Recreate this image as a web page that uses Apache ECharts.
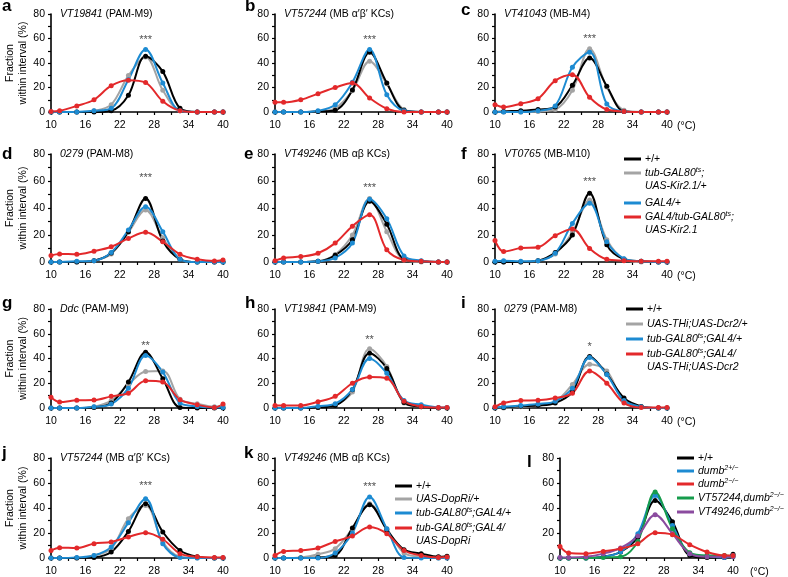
<!DOCTYPE html>
<html>
<head>
<meta charset="utf-8">
<script src="https://cdn.jsdelivr.net/npm/echarts@6/dist/echarts.min.js"></script>
<style>
  html, body { margin: 0; background: #fff; }
  #chart { width: 788px; height: 577px; }
</style>
</head>
<body>
<div id="chart"></div>
<script>
// temperature bins (°C), shared by every panel
const X = [10, 11.5, 14.5, 17.5, 20.5, 23.5, 26.5, 29.5, 32.5, 35.5, 38.5, 40]
const xTicks = [10, 16, 22, 28, 34, 40]
const yTicks = [0, 20, 40, 60, 80]

// a  VT19841 (PAM-M9)
const aBlack = [0, 0, 0, 0, 1, 13.6, 45.5, 33, 3, 0, 0, 0]
const aGray = [0, 0, 0, 1, 6, 29.7, 45, 17.7, 1, 0, 0, 0]
const aBlue = [0, 0, 0, 1, 3, 26.4, 51, 23.7, 1, 0, 0, 0]
const aRed = [0.5, 1, 5, 10, 21.5, 26, 24, 8.7, 1, 0, 0, 0]
// b  VT57244 (MB a'b' KCs)
const bBlack = [0, 0, 0, 0.5, 1.5, 18, 48.7, 23.7, 1.4, 0, 0, 0]
const bGray = [0, 0, 0, 0.5, 3, 17.4, 41.4, 23, 2, 0, 0, 0]
const bBlue = [0, 0, 0, 1, 6, 24.2, 51, 14, 1, 0, 0, 0]
const bRed = [7.9, 7.9, 10, 15, 20, 23.7, 11.4, 2.7, 0, 0, 0, 0]
// c  VT41043 (MB-M4)
const cBlack = [0, 0.5, 1, 2, 4, 21.8, 44, 21, 0.5, 0, 0, 0]
const cGray = [0, 0, 0, 0.5, 2, 17.7, 51.7, 20.4, 1.4, 0, 0, 0]
const cBlue = [0, 0, 0, 1, 5, 36.5, 48.7, 6.5, 0.5, 0, 0, 0]
const cRed = [6, 4, 6.8, 10.9, 25.6, 30.5, 12, 2, 0.5, 0, 0, 0]
// d  0279 (PAM-M8)
const dBlack = [0, 0, 0, 1, 6.7, 22.5, 47, 15.5, 2, 0, 0, 0]
const dGray = [0, 0, 0, 1, 6, 22, 38.5, 18, 2, 0, 0, 0]
const dBlue = [0, 0, 0.5, 1, 7, 23.7, 41, 22.5, 2, 0, 0, 0]
const dRed = [4.9, 6, 5.7, 8, 11.3, 17.5, 22, 15, 5.7, 2, 0.7, 1.5]
// e  VT49246 (MB ab KCs)
const eBlack = [0, 0, 0, 0.5, 5, 16.5, 45, 28, 2, 0.5, 0, 0]
const eGray = [0, 0, 0, 0.5, 5.5, 20, 47, 22.5, 1.5, 0, 0, 0]
const eBlue = [0, 0, 0, 0.5, 3, 14, 46.5, 32, 4.5, 1, 0, 0]
const eRed = [1, 3, 4, 6.5, 14, 26.5, 35, 9, 1.5, 0.5, 0, 0]
// f  VT0765 (MB-M10)
const fBlack = [0, 0, 0, 1, 7, 20, 51, 12.7, 2, 0.5, 0, 0]
const fGray = [0, 0, 0, 1, 6, 22, 46, 16.5, 2, 0, 0, 0]
const fBlue = [0.5, 1, 0.5, 1, 6.5, 28.6, 43.5, 15, 2.5, 0.5, 0, 0]
const fRed = [16, 7.7, 10.3, 11, 19.5, 24.5, 10, 2, 1, 0.5, 0.5, 0.5]
// g  Ddc (PAM-M9)
const gBlack = [0, 0, 0, 0.5, 4, 21, 45, 23.6, 0.5, 0, 0, 0]
const gGray = [0, 0, 0, 1, 6, 19, 29.5, 30, 7, 3.5, 1, 2]
const gBlue = [0, 0, 0, 1, 3.2, 16, 42.4, 29, 4, 1.3, 0.5, 0.5]
const gRed = [8.6, 4.8, 6.2, 6.4, 9.4, 12, 22, 21, 6.7, 2.7, 0.5, 3.2]
// h  VT19841 (PAM-M9)
const hBlack = [0, 0, 0, 0.5, 2, 14.8, 44.3, 32, 4.5, 1, 0, 0]
const hGray = [0, 0, 0, 0.5, 2.5, 13, 47.8, 33.6, 4, 1, 0, 0]
const hBlue = [0, 0, 0, 1.5, 3.5, 15, 40, 28, 6, 2.7, 0.5, 0.5]
const hRed = [2, 2, 2, 5, 9.4, 20, 25, 24, 5.4, 1.3, 0.5, 0.5]
// i  0279 (PAM-M8)
const iBlack = [0, 0.5, 1.5, 2, 4, 13, 41.6, 27.4, 8, 1.3, 0, 0]
const iGray = [0, 0, 1, 2, 5, 19, 35.4, 30, 5, 1, 0, 0]
const iBlue = [0.5, 1, 2, 3.2, 5.4, 16, 40.8, 27, 6, 1, 0, 0]
const iRed = [1, 4, 6, 6.2, 8, 12, 30, 20, 4, 0.5, 0.5, 0.5]
// j  VT57244 (MB a'b' KCs)
const jBlack = [0, 0, 0, 0.5, 4.8, 21.3, 43.5, 20.8, 6, 1, 0, 0]
const jGray = [0, 0, 0, 2, 7.5, 31.5, 42, 12.8, 1, 0, 0, 0]
const jBlue = [0, 0, 0.5, 2, 8.8, 28.3, 47.5, 11.5, 0.5, 0, 0, 0]
const jRed = [6, 8.3, 8, 11.5, 12.8, 16.8, 20.3, 15, 3.5, 1, 0.5, 0.5]
// k  VT49246 (MB ab KCs)
const kBlack = [0, 0, 0, 0.5, 2, 24, 42.7, 22.7, 6.7, 3.5, 1, 1.5]
const kGray = [0, 0, 0.5, 3, 7.5, 23.5, 43.5, 23.5, 4, 1, 0, 0]
const kBlue = [0, 0, 0, 0, 4, 20, 48.8, 23.5, 0.5, 0, 0, 0]
const kRed = [2, 5.3, 6, 8, 13.3, 17.6, 24.8, 19.5, 6, 2, 0.5, 0.8]
// l  dumb2 mutants
const lBlack = [0, 0, 0, 1, 4.8, 16.8, 46, 29, 2, 0.5, 0.5, 3]
const lBlue = [0, 0, 0, 1, 5, 19.5, 50, 26, 3.5, 1.5, 0.5, 2]
const lRed = [9.3, 4, 3.5, 5.3, 7.5, 11.5, 20.3, 18.7, 10.7, 4.8, 2, 2]
const lGreen = [0, 0, 0, 0.5, 1, 13.3, 52.8, 23.5, 4.3, 2, 2, 1]
const lPurple = [0.5, 0.5, 1, 3.5, 8, 17.6, 34.7, 19.5, 3.5, 1, 1, 1]

// significance marks above the peak
const starText = ['***', '***', '***', '***', '***', '***', '**', '**', '*', '***', '***', '']
const starX = 26.5
const starY = [58.5, 58.5, 59.6, 62.5, 55, 59, 50, 55, 49.7, 57.6, 56.8, 0]

const FONT = '"Liberation Sans", Arial, sans-serif'
const BLACK = '#000000'
const GRAY = '#a4a4a4'
const BLUE = '#1d8bd2'
const RED = '#e3292b'
const GREEN = '#169c4c'
const PURPLE = '#8b4b9f'

// grid boxes [left, top, width, height] in px
const panels = [
  { letter: 'a', lp: [2, 6], box: [51, 14, 172, 98], title: ['VT19841', ' (PAM-M9)'], lines: [[aGray, GRAY], [aBlack, BLACK], [aBlue, BLUE], [aRed, RED]] },
  { letter: 'b', lp: [245, 6], box: [275, 14, 172, 98], title: ['VT57244', ' (MB α′β′ KCs)'], lines: [[bGray, GRAY], [bBlack, BLACK], [bBlue, BLUE], [bRed, RED]] },
  { letter: 'c', lp: [461, 10], box: [495, 14, 172, 98], title: ['VT41043', ' (MB-M4)'], lines: [[cGray, GRAY], [cBlack, BLACK], [cBlue, BLUE], [cRed, RED]], unit: true },
  { letter: 'd', lp: [2, 154], box: [51, 154, 172, 108], title: ['0279', ' (PAM-M8)'], lines: [[dGray, GRAY], [dBlack, BLACK], [dBlue, BLUE], [dRed, RED]] },
  { letter: 'e', lp: [244, 154], box: [275, 154, 172, 108], title: ['VT49246', ' (MB αβ KCs)'], lines: [[eGray, GRAY], [eBlack, BLACK], [eBlue, BLUE], [eRed, RED]] },
  { letter: 'f', lp: [461, 154], box: [495, 154, 172, 108], title: ['VT0765', ' (MB-M10)'], lines: [[fGray, GRAY], [fBlack, BLACK], [fBlue, BLUE], [fRed, RED]], unit: true },
  { letter: 'g', lp: [2, 303], box: [51, 309, 172, 99], title: ['Ddc', ' (PAM-M9)'], lines: [[gGray, GRAY], [gBlack, BLACK], [gBlue, BLUE], [gRed, RED]] },
  { letter: 'h', lp: [245, 303], box: [275, 309, 172, 99], title: ['VT19841', ' (PAM-M9)'], lines: [[hGray, GRAY], [hBlack, BLACK], [hBlue, BLUE], [hRed, RED]] },
  { letter: 'i', lp: [461, 303], box: [495, 309, 172, 99], title: ['0279', ' (PAM-M8)'], lines: [[iGray, GRAY], [iBlack, BLACK], [iBlue, BLUE], [iRed, RED]], unit: true },
  { letter: 'j', lp: [2, 453], box: [51, 458, 172, 100], title: ['VT57244', ' (MB α′β′ KCs)'], lines: [[jGray, GRAY], [jBlack, BLACK], [jBlue, BLUE], [jRed, RED]] },
  { letter: 'k', lp: [244, 453], box: [275, 458, 172, 100], title: ['VT49246', ' (MB αβ KCs)'], lines: [[kGray, GRAY], [kBlack, BLACK], [kBlue, BLUE], [kRed, RED]] },
  { letter: 'l', lp: [527, 462], box: [560, 458, 173, 100], title: null, lines: [[lBlack, BLACK], [lBlue, BLUE], [lGreen, GREEN], [lPurple, PURPLE], [lRed, RED]], unit: true },
]

// legends: line start x, one row per genotype
const sup = (s) => '{s|' + s + '}'
const legends = [
  { x: 624, rows: [
    { y: 159, color: BLACK, text: ['{n|+/+}'] },
    { y: 173, color: GRAY, text: ['tub-GAL80' + sup('ts') + ';', 'UAS-Kir2.1/+'] },
    { y: 203, color: BLUE, text: ['GAL4/+'] },
    { y: 217, color: RED, text: ['GAL4/tub-GAL80' + sup('ts') + ';', 'UAS-Kir2.1'] },
  ] },
  { x: 626, rows: [
    { y: 309, color: BLACK, text: ['{n|+/+}'] },
    { y: 324, color: GRAY, text: ['UAS-THi;UAS-Dcr2/+'] },
    { y: 339, color: BLUE, text: ['tub-GAL80' + sup('ts') + ';GAL4/+'] },
    { y: 354, color: RED, text: ['tub-GAL80' + sup('ts') + ';GAL4/', 'UAS-THi;UAS-Dcr2'] },
  ] },
  { x: 395, rows: [
    { y: 486, color: BLACK, text: ['{n|+/+}'] },
    { y: 499, color: GRAY, text: ['UAS-DopRi/+'] },
    { y: 513, color: BLUE, text: ['tub-GAL80' + sup('ts') + ';GAL4/+'] },
    { y: 528, color: RED, text: ['tub-GAL80' + sup('ts') + ';GAL4/', 'UAS-DopRi'] },
  ] },
  { x: 677, rows: [
    { y: 458, color: BLACK, text: ['{n|+/+}'] },
    { y: 471, color: BLUE, text: ['dumb' + sup('2+/−')] },
    { y: 484, color: RED, text: ['dumb' + sup('2−/−')] },
    { y: 498, color: GREEN, text: ['VT57244,dumb' + sup('2−/−')] },
    { y: 512, color: PURPLE, text: ['VT49246,dumb' + sup('2−/−')] },
  ] },
]

const richStyles = {
  i: { fontStyle: 'italic', fontSize: 10.5, fontFamily: FONT, fill: '#000' },
  n: { fontStyle: 'normal', fontSize: 10.5, fontFamily: FONT, fill: '#000' },
  s: { fontStyle: 'italic', fontSize: 7, fontFamily: FONT, fill: '#000', verticalAlign: 'top', lineHeight: 12 },
}

const grids = []
const xAxes = []
const yAxes = []
const series = []
const graphics = []

panels.forEach((p, idx) => {
  const [left, top, width, height] = p.box
  grids.push({ left, top, width, height })
  xAxes.push({
    gridIndex: idx, type: 'value', min: 10, max: 40, interval: 3,
    axisLine: { lineStyle: { color: '#000', width: 1.6 } },
    axisTick: { show: true, length: 3, lineStyle: { color: '#000', width: 1.2 } },
    axisLabel: {
      interval: 0, margin: 8, color: '#000', fontSize: 10.5, fontFamily: FONT,
      formatter: (v) => (xTicks.includes(v) ? String(v) : ''),
    },
    splitLine: { show: false },
  })
  yAxes.push({
    gridIndex: idx, type: 'value', min: 0, max: 80, interval: 10,
    axisLine: { show: true, lineStyle: { color: '#000', width: 1.6 } },
    axisTick: { show: true, length: 3, lineStyle: { color: '#000', width: 1.2 } },
    axisLabel: {
      margin: 6, color: '#000', fontSize: 10.5, fontFamily: FONT,
      formatter: (v) => (yTicks.includes(v) ? String(v) : ''),
    },
    splitLine: { show: false },
  })
  p.lines.forEach(([vals, color]) => {
    series.push({
      type: 'line', xAxisIndex: idx, yAxisIndex: idx,
      data: X.map((x, i) => [x, vals[i]]),
      smooth: 0.35, symbol: 'circle', symbolSize: 5,
      lineStyle: { color, width: 2 }, itemStyle: { color },
      silent: true,
    })
  })
  if (starText[idx]) {
    series.push({
      type: 'scatter', xAxisIndex: idx, yAxisIndex: idx, symbolSize: 0,
      data: [[starX, starY[idx]]], silent: true, z: 5,
      label: { show: true, position: 'inside', formatter: starText[idx], color: '#222', fontSize: 11, fontFamily: FONT },
    })
  }
  // panel letter
  graphics.push({
    type: 'text', x: p.lp[0], y: p.lp[1],
    style: { text: p.letter, font: 'bold 17px ' + FONT, fill: '#000', verticalAlign: 'middle' },
  })
  if (p.title) {
    graphics.push({
      type: 'text', x: left + 9, y: top,
      style: { text: '{i|' + p.title[0] + '}{n|' + p.title[1] + '}', rich: richStyles, verticalAlign: 'middle' },
    })
  }
  if (p.unit) {
    graphics.push({
      type: 'text', x: left + width + (idx === 11 ? 17 : 10), y: top + height + 14,
      style: { text: '(°C)', font: '10.5px ' + FONT, fill: '#000', verticalAlign: 'middle' },
    })
  }
  // y axis title, first column only
  if (left < 100) {
    const cy = top + height / 2
    graphics.push({
      type: 'text', x: 10, y: cy, rotation: Math.PI / 2,
      style: { text: 'Fraction', font: '10.5px ' + FONT, fill: '#000', align: 'center', verticalAlign: 'middle' },
    })
    graphics.push({
      type: 'text', x: 23, y: cy, rotation: Math.PI / 2,
      style: { text: 'within interval (%)', font: '10.5px ' + FONT, fill: '#000', align: 'center', verticalAlign: 'middle' },
    })
  }
})

legends.forEach((lg) => {
  lg.rows.forEach((r) => {
    graphics.push({
      type: 'line', shape: { x1: lg.x, y1: r.y, x2: lg.x + 17, y2: r.y },
      style: { stroke: r.color, lineWidth: 3 },
    })
    r.text.forEach((t, k) => {
      const txt = t.startsWith('{n|') ? t : '{i|' + t.replace(/\{s\|/g, '}{s|').replace(/\}(?=[^{]*$)/, '}{i|') + '}'
      graphics.push({
        type: 'text', x: lg.x + 21, y: r.y + k * 13,
        style: { text: txt, rich: richStyles, verticalAlign: 'middle' },
      })
    })
  })
})

const chart = echarts.init(document.getElementById('chart'))
chart.setOption({
  animation: false,
  backgroundColor: '#fff',
  textStyle: { fontFamily: FONT },
  grid: grids,
  xAxis: xAxes,
  yAxis: yAxes,
  series,
  graphic: graphics,
})
</script>
</body>
</html>
